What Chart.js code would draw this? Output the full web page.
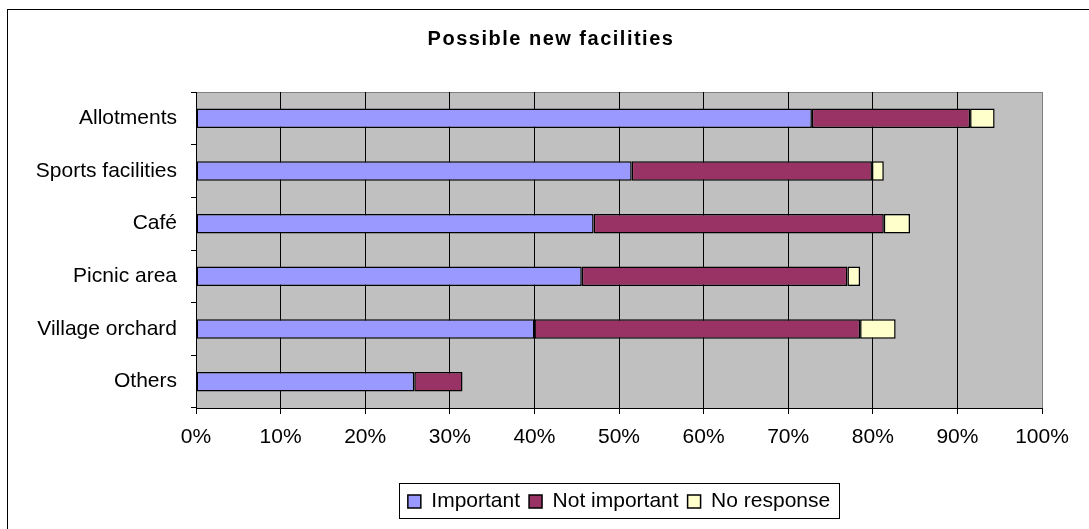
<!DOCTYPE html>
<html>
<head>
<meta charset="utf-8">
<script src="https://cdn.jsdelivr.net/npm/chart.js@4.4.1/dist/chart.umd.min.js"></script>
<style>
  html, body { margin: 0; padding: 0; background: #fff; }
  #wrap { width: 1089px; height: 529px; }
</style>
</head>
<body>
<div id="wrap"><canvas id="grafico"></canvas></div>
<script>
// Dados (percentuais)
const titulo = 'Possible new facilities';
const categorias = ['Allotments', 'Sports facilities', 'Café', 'Picnic area', 'Village orchard', 'Others'];
const importante = [72.8, 51.5, 47.0, 45.6, 40.0, 25.8];
const naoImportante = [18.7, 28.4, 34.3, 31.4, 38.5, 5.7];
const semResposta = [2.9, 1.4, 3.1, 1.5, 4.2, 0];
const rotulosX = ['0%', '10%', '20%', '30%', '40%', '50%', '60%', '70%', '80%', '90%', '100%'];

const fonte = { family: '"Liberation Sans", Arial, sans-serif', size: 21 };

// Fundo, moldura, título e caixa da legenda
const moldura = {
    id: 'moldura',
    beforeDraw(chart) {
        const { ctx, chartArea: a } = chart;
        ctx.save();
        ctx.fillStyle = '#fff';
        ctx.fillRect(0, 0, chart.width, chart.height);
        ctx.strokeStyle = '#000';
        ctx.lineWidth = 1;
        ctx.strokeRect(7.5, 9.5, chart.width + 20, chart.height + 20);
        ctx.fillStyle = '#c0c0c0';
        ctx.fillRect(a.left, a.top, a.right - a.left, a.bottom - a.top);
        ctx.strokeStyle = '#808080';
        ctx.strokeRect(a.left + 0.5, a.top + 0.5, a.right - a.left, a.bottom - a.top);
        ctx.fillStyle = '#000';
        ctx.font = 'bold 20px "Liberation Sans", Arial, sans-serif';
        ctx.letterSpacing = '1.5px';
        ctx.textAlign = 'center';
        ctx.textBaseline = 'middle';
        ctx.fillText(titulo, 551, 39);
        ctx.restore();
    },
    afterDraw(chart) {
        const caixas = chart.legend.legendHitBoxes;
        if (!caixas || !caixas.length) return;
        const esq = Math.min(...caixas.map(c => c.left)) - 9;
        const dir = Math.max(...caixas.map(c => c.left + c.width)) + 9;
        const meio = caixas[0].top + caixas[0].height / 2;
        const { ctx } = chart;
        ctx.save();
        ctx.strokeStyle = '#000';
        ctx.lineWidth = 1;
        ctx.strokeRect(Math.round(esq) + 0.5, Math.round(meio - 19) + 0.5, Math.round(dir - esq), 35);
        ctx.restore();
    }
};

new Chart(document.getElementById('grafico'), {
    type: 'bar',
    data: {
        labels: categorias,
        datasets: [
            { label: 'Important', data: importante, backgroundColor: '#9999ff' },
            { label: 'Not important', data: naoImportante, backgroundColor: '#993366' },
            { label: 'No response', data: semResposta, backgroundColor: '#ffffcc' }
        ]
    },
    options: {
        indexAxis: 'y',
        responsive: true,
        maintainAspectRatio: false,
        animation: false,
        datasets: {
            bar: {
                borderColor: '#000',
                borderWidth: 1.5,
                borderSkipped: false,
                categoryPercentage: 1,
                barPercentage: 0.37
            }
        },
        layout: { padding: { left: 10, right: 47, top: 92, bottom: 7 } },
        scales: {
            x: {
                stacked: true,
                min: 0,
                max: 100,
                ticks: {
                    stepSize: 10,
                    autoSkip: false,
                    maxRotation: 0,
                    color: '#000',
                    font: fonte,
                    padding: 11,
                    callback: (v, i) => rotulosX[i]
                },
                grid: {
                    color: c => c.index === 10 ? '#808080' : '#000',
                    tickColor: '#000',
                    tickLength: 6
                },
                border: { color: '#000' },
                afterFit: s => { s.height = 74; }
            },
            y: {
                stacked: true,
                ticks: { color: '#000', font: fonte, padding: 14 },
                grid: { offset: true, drawOnChartArea: false, tickLength: 5, color: '#000' },
                border: { color: '#000' },
                afterFit: s => { s.width = 186; }
            }
        },
        plugins: {
            title: { display: false },
            tooltip: { enabled: false },
            legend: {
                position: 'bottom',
                fullSize: false,
                labels: {
                    color: '#000',
                    font: fonte,
                    boxWidth: 13,
                    boxHeight: 13,
                    padding: 9
                }
            }
        }
    },
    plugins: [moldura]
});
</script>
</body>
</html>
